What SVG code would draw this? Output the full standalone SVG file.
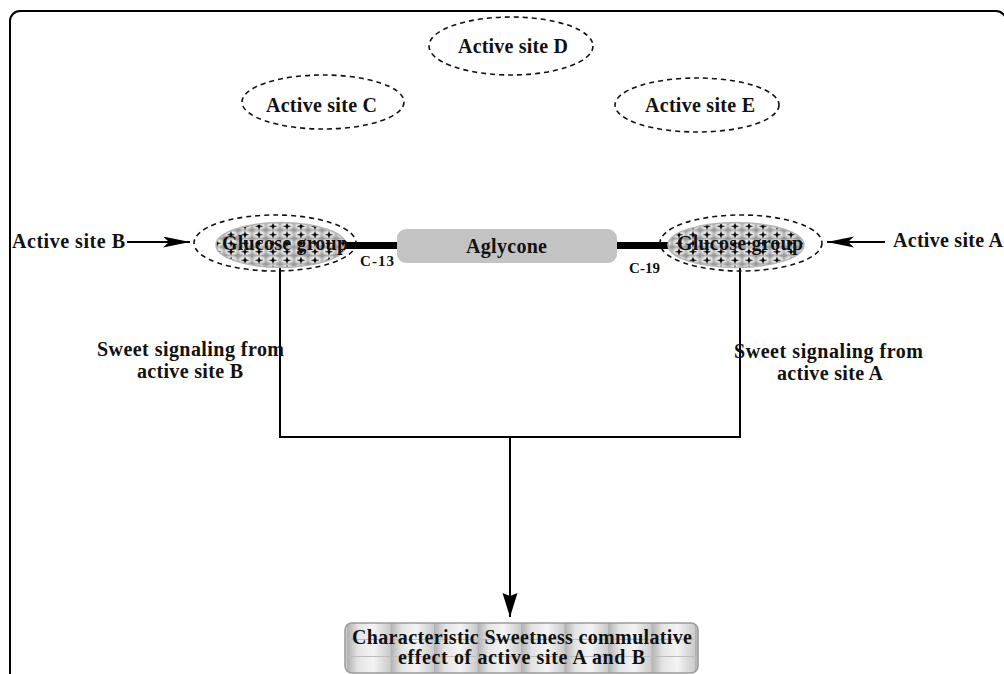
<svg xmlns="http://www.w3.org/2000/svg" width="1004" height="674" viewBox="0 0 1004 674">
<style>
  .lbl { font-family: "Liberation Serif", "Times New Roman", serif; font-weight: bold; font-size: 20px; fill: #111; }
  .small { font-size: 15px; }
  .dash { fill: none; stroke: #111; stroke-width: 1.6; stroke-dasharray: 5 4; }
  .conn { fill: none; stroke: #000; stroke-width: 2; }
  .bar { stroke: #000; stroke-width: 7; }
</style>
<defs>
  <radialGradient id="bub" cx="0.5" cy="0.45" r="0.6">
    <stop offset="0" stop-color="#ffffff"/>
    <stop offset="0.55" stop-color="#e2e2e2"/>
    <stop offset="1" stop-color="#9a9a9a"/>
  </radialGradient>
  <pattern id="gluc" patternUnits="userSpaceOnUse" width="14" height="8.5" x="0" y="1">
    <rect width="14" height="8.5" fill="url(#bub)"/>
    <path d="M7,0.5 L8,3.3 L11.3,4.25 L8,5.2 L7,8 L6,5.2 L2.7,4.25 L6,3.3 Z" fill="#000"/>
  </pattern>
  <linearGradient id="colg" x1="0" y1="0" x2="1" y2="0">
    <stop offset="0" stop-color="#b0b0b0"/>
    <stop offset="0.25" stop-color="#e4e4e4"/>
    <stop offset="0.6" stop-color="#f4f4f4"/>
    <stop offset="1" stop-color="#cacaca"/>
  </linearGradient>
  <pattern id="cyl" patternUnits="userSpaceOnUse" width="43.5" height="50" x="347" y="623">
    <rect width="43.5" height="50" fill="url(#colg)"/>
    <line x1="0" y1="16.5" x2="43.5" y2="16.5" stroke="#bdbdbd" stroke-width="1"/>
    <line x1="0" y1="33.5" x2="43.5" y2="33.5" stroke="#bdbdbd" stroke-width="1"/>
  </pattern>
  <marker id="arrH" markerUnits="userSpaceOnUse" markerWidth="28" markerHeight="12" refX="27" refY="5.5" orient="auto">
    <path d="M0,0 L27,5.5 L0,11 L6,5.5 Z" fill="#000"/>
  </marker>
  <marker id="arrV" markerUnits="userSpaceOnUse" markerWidth="26" markerHeight="16" refX="24" refY="7.5" orient="auto">
    <path d="M0,0 L24,7.5 L0,15 L3,7.5 Z" fill="#000"/>
  </marker>
</defs>

<rect id="frame" x="10" y="11" width="996" height="700" rx="10" ry="10" fill="#fff" stroke="#000" stroke-width="2"/>

<g id="site-D">
  <ellipse class="dash" cx="511" cy="46" rx="82" ry="29"/>
  <text class="lbl" x="458" y="53" textLength="110" lengthAdjust="spacing">Active site D</text>
</g>
<g id="site-C">
  <ellipse class="dash" cx="323" cy="102" rx="81" ry="27"/>
  <text class="lbl" x="266" y="112" textLength="111" lengthAdjust="spacing">Active site C</text>
</g>
<g id="site-E">
  <ellipse class="dash" cx="697" cy="105" rx="82" ry="27"/>
  <text class="lbl" x="645" y="112" textLength="110" lengthAdjust="spacing">Active site E</text>
</g>

<g id="connectors">
  <line class="bar" x1="340" y1="245.5" x2="400" y2="245.5"/>
  <line class="bar" x1="614" y1="245.5" x2="674" y2="245.5"/>
  <line class="conn" x1="127" y1="242" x2="190" y2="242" marker-end="url(#arrH)"/>
  <line class="conn" x1="885" y1="242" x2="827" y2="242" marker-end="url(#arrH)"/>
  <polyline class="conn" points="280,268 280,437 740,437 740,268"/>
  <line class="conn" x1="510" y1="437" x2="510" y2="617" marker-end="url(#arrV)"/>
</g>

<g id="site-B">
  <text class="lbl" x="12" y="248" textLength="113" lengthAdjust="spacing">Active site B</text>
</g>
<g id="site-A">
  <text class="lbl" x="893" y="247" textLength="110" lengthAdjust="spacing">Active site A</text>
</g>

<g id="glucose-left">
  <ellipse class="dash" cx="275" cy="243" rx="81" ry="28"/>
  <ellipse cx="281" cy="245" rx="65" ry="22.5" fill="url(#gluc)" stroke="#b5b5b5" stroke-width="1.5"/>
  <text class="lbl" x="222" y="250" textLength="126" lengthAdjust="spacing">Glucose group</text>
</g>
<g id="glucose-right">
  <ellipse class="dash" cx="741" cy="243" rx="81" ry="28"/>
  <ellipse cx="736" cy="245" rx="68" ry="22.5" fill="url(#gluc)" stroke="#b5b5b5" stroke-width="1.5"/>
  <text class="lbl" x="677" y="250" textLength="126" lengthAdjust="spacing">Glucose group</text>
</g>

<g id="aglycone">
  <rect x="397" y="229" width="220" height="34" rx="9" ry="9" fill="#c3c3c3"/>
  <text class="lbl" x="466" y="253" textLength="81" lengthAdjust="spacing">Aglycone</text>
</g>

<g id="c13">
  <text class="lbl small" x="360" y="266" textLength="34" lengthAdjust="spacing">C-13</text>
</g>
<g id="c19">
  <text class="lbl small" x="629" y="273" textLength="31" lengthAdjust="spacing">C-19</text>
</g>

<g id="signal-B">
  <text class="lbl" x="97" y="356" textLength="187" lengthAdjust="spacing">Sweet signaling from</text>
  <text class="lbl" x="137" y="378" textLength="106" lengthAdjust="spacing">active site B</text>
</g>
<g id="signal-A">
  <text class="lbl" x="734" y="358" textLength="189" lengthAdjust="spacing">Sweet signaling from</text>
  <text class="lbl" x="777" y="380" textLength="106" lengthAdjust="spacing">active site A</text>
</g>

<g id="result">
  <rect x="345" y="623" width="353" height="50" rx="7" ry="7" fill="url(#cyl)" stroke="#9a9a9a" stroke-width="1.5"/>
  <text class="lbl" x="352" y="644" textLength="340" lengthAdjust="spacing">Characteristic Sweetness commulative</text>
  <text class="lbl" x="398" y="664" textLength="247" lengthAdjust="spacing">effect of active site A and B</text>
</g>
</svg>
